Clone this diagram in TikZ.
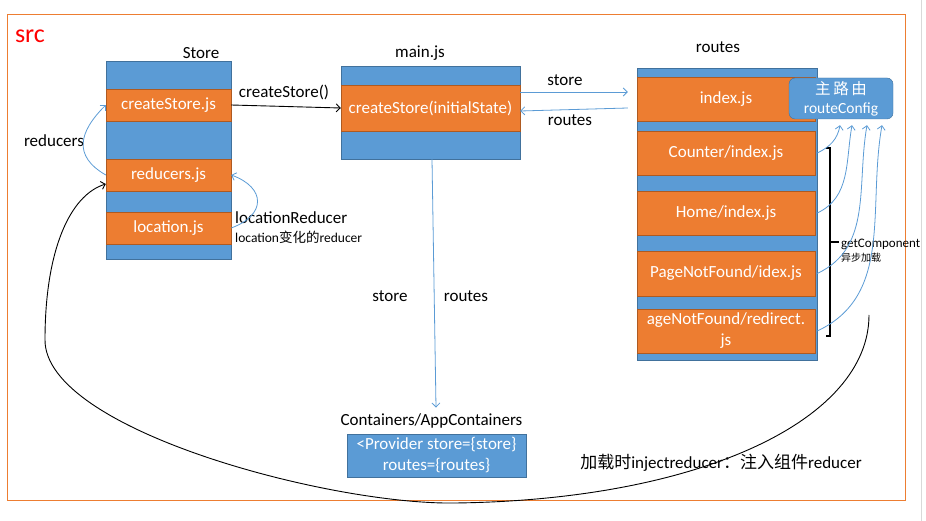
\documentclass[tikz,border=0pt]{standalone}
\usepackage{fontspec}
\setmainfont{Carlito}
\newfontfamily\cjk{Noto Sans CJK SC}
\usetikzlibrary{shapes,arrows.meta,calc}
\definecolor{boxblue}{RGB}{91,155,213}
\definecolor{boxblueline}{RGB}{65,113,156}
\definecolor{boxorange}{RGB}{237,125,49}
\definecolor{boxorangeline}{RGB}{174,90,33}
\definecolor{linkblue}{RGB}{91,155,213}

\begin{document}
\begin{tikzpicture}[x=1pt,y=-1pt,
	col/.style={draw=boxblueline, fill=boxblue, rectangle, inner sep=0pt},
	file/.style={draw=boxorangeline, fill=boxorange, rectangle, text=white, inner sep=0pt, align=center, font=\fontsize{17}{21}\selectfont},
	lbl/.style={inner sep=0pt, font=\fontsize{17}{21}\selectfont},
	small/.style={inner sep=0pt, font=\fontsize{13.5}{15}\selectfont},
	link/.style={draw=linkblue, line width=0.8pt, -{Straight Barb[length=4pt,width=8pt]}},
	flow/.style={draw=black, line width=0.9pt, -{Straight Barb[length=4pt,width=8pt]}}]
				\useasboundingbox (0,0) rectangle (926,521);
				% Frame
				\draw[boxorange, line width=0.9pt] (7,14) rectangle (905,500);
				\draw[black!15, line width=1pt] (921,0) -- (921,521);
				\node[text=red, inner sep=0pt, font=\fontsize{26}{30}\selectfont] (src) at (30,36) {src};
				
				% Store column
				\node[col, minimum width=125pt, minimum height=198pt] (store) at (168.5,160) {};
				\node[lbl] (storelbl) at (201,53) {Store};
				\node[file, minimum width=125pt, minimum height=32pt] (cs) at (168.5,105) {createStore.js};
				\node[file, minimum width=125pt, minimum height=32pt] (red) at (168.5,175) {reducers.js};
				\node[file, minimum width=125pt, minimum height=32pt] (loc) at (168.5,228) {location.js};
				\node[lbl] (redlbl) at (54,141) {reducers};
				\node[lbl, anchor=west] (loclbl) at (235,218) {locationReducer};
				\node[small, anchor=west] (locsub) at (235,237) {location{\cjk 变化的}reducer};
				
				% main.js column
				\node[col, minimum width=179pt, minimum height=93pt] (main) at (430.5,112.5) {};
				\node[lbl] (mainlbl) at (420,53) {main.js};
				\node[file, minimum width=179pt, minimum height=46pt] (mcs) at (430.5,108) {createStore(initialState)};
				\node[lbl] (cslbl) at (284,92) {createStore()};
				
				% routes column
				\node[col, minimum width=180pt, minimum height=292pt] (routes) at (727,214) {};
				\node[lbl] (routeslbl) at (718,47) {routes};
				\node[file, minimum width=178pt, minimum height=44pt] (idx) at (726,99) {index.js};
				\node[file, minimum width=178pt, minimum height=44pt] (cnt) at (726,153) {Counter/index.js};
				\node[file, minimum width=178pt, minimum height=44pt] (home) at (726,213) {Home/index.js};
				\node[file, minimum width=178pt, minimum height=45pt] (pnf) at (726,273.5) {PageNotFound/idex.js};
				\node[file, minimum width=178pt, minimum height=44pt] (rdr) at (726,331) {ageNotFound/redirect.\\js};
				\node[col, rounded corners=6pt, minimum width=104pt, minimum height=41pt, text=white, align=center,
					font=\fontsize{15.5}{19}\selectfont] (cfg) at (841,98.5) {{\cjk 主\,路\,由}\\routeConfig};
				\node[lbl] (storeto) at (565,80) {store};
				\node[lbl] (routesback) at (570,120) {routes};
				
				% getComponent bracket
				\draw[black, line width=1.3pt] (826,148) -- (830,148) -- (830,336) -- (826,336);
				\draw[black, line width=1.3pt] (830,242) -- (839,242);
				\node[small, anchor=west, font=\fontsize{13}{15}\selectfont] (gc) at (841,244) {getComponent};
				\node[small, anchor=west, font=\fontsize{10}{12}\cjk] (gcsub) at (841,258) {异步加载};
				
				% Containers
				\node[lbl] (cont) at (431.5,421) {Containers/AppContainers};
				\node[col, minimum width=179pt, minimum height=43pt, text=white, align=center,
					font=\fontsize{17}{21}\selectfont] (prov) at (436.5,455.5) {<Provider store=\{store\}\\routes=\{routes\}};
				\node[lbl] (downstore) at (390,296) {store};
				\node[lbl] (downroutes) at (466,296) {routes};
				\node[lbl] (inject) at (721,463) {{\cjk 加载时}injectreducer{\cjk ：注入组件}reducer};
				
				% Connections
				\draw[flow] (cs.east) -- (mcs.west);
				\draw[link] ([yshift=16pt]mcs.east) -- ([xshift=-9pt,yshift=7pt]idx.west);
				\draw[link] ([xshift=-9pt,yshift=-9pt]idx.west) -- ([yshift=-3pt]mcs.east);
				\draw[link] ([xshift=1.5pt]main.south) -- ([xshift=4.5pt,yshift=6pt]cont.north);
				\draw[link] (red.west) to[out=150, in=225, looseness=1.4] (cs.west);
				\draw[link] (loc.east) to[out=20, in=-20, looseness=1.8] (red.east);
				\draw[link] ([xshift=2pt]cnt.east) to[out=25, in=-100] ([xshift=-1pt,yshift=-6pt]cfg.south);
				\draw[link] ([xshift=2pt]home.east) to[out=25, in=-100] ([xshift=11pt,yshift=-6pt]cfg.south);
				\draw[link] ([xshift=2pt]pnf.east) to[out=25, in=-100] ([xshift=26pt,yshift=-6pt]cfg.south);
				\draw[link] ([xshift=2pt]rdr.east) to[out=25, in=-100] ([xshift=41pt,yshift=-6pt]cfg.south);
				\coordinate (injstart) at (869,315);
				\draw[flow] (injstart) .. controls (869,420) and (700,500) .. (455,503)
					.. controls (330,505) and (45,430) .. (45,340)
					.. controls (45,250) and (70,195) .. ([yshift=-9pt]red.west);
			\end{tikzpicture}
\end{document}
